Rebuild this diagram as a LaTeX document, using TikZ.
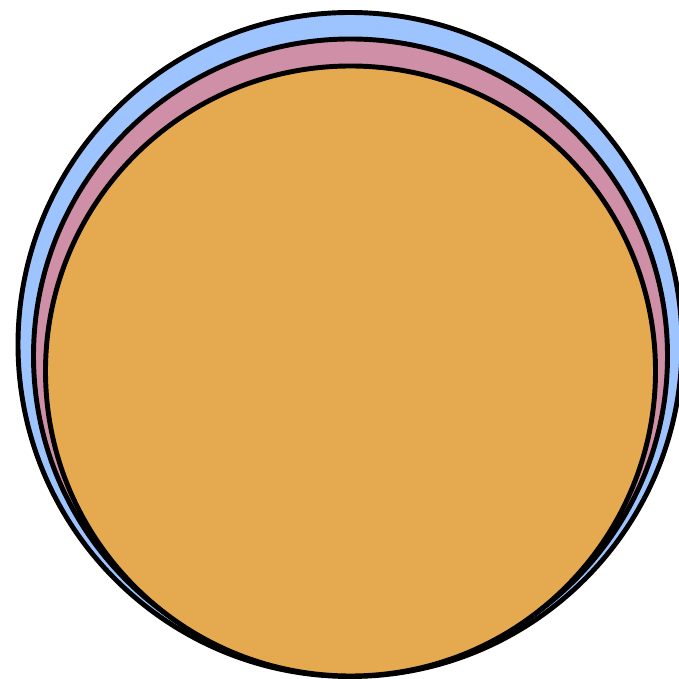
\documentclass[tikz,border=0pt]{standalone}
\usepackage{tikz}
\definecolor{skyblue}{RGB}{158,196,255}
\definecolor{rosepink}{RGB}{206,143,167}
\definecolor{amber}{RGB}{229,170,80}
\tikzset{disc/.style={draw=black,line width=1.4pt}}

\begin{document}
\begin{tikzpicture}[x=0.01cm,y=0.01cm]
\useasboundingbox (0,0) rectangle (679,679);
\clip (0,0) rectangle (679,679);
\draw[disc,fill=skyblue] (350,334.5) circle (332);% outer
\draw[disc,fill=rosepink] (350.5,323) circle (317);% middle
\draw[disc,fill=amber] (350.5,308) circle (305);% inner
\end{tikzpicture}
\end{document}
